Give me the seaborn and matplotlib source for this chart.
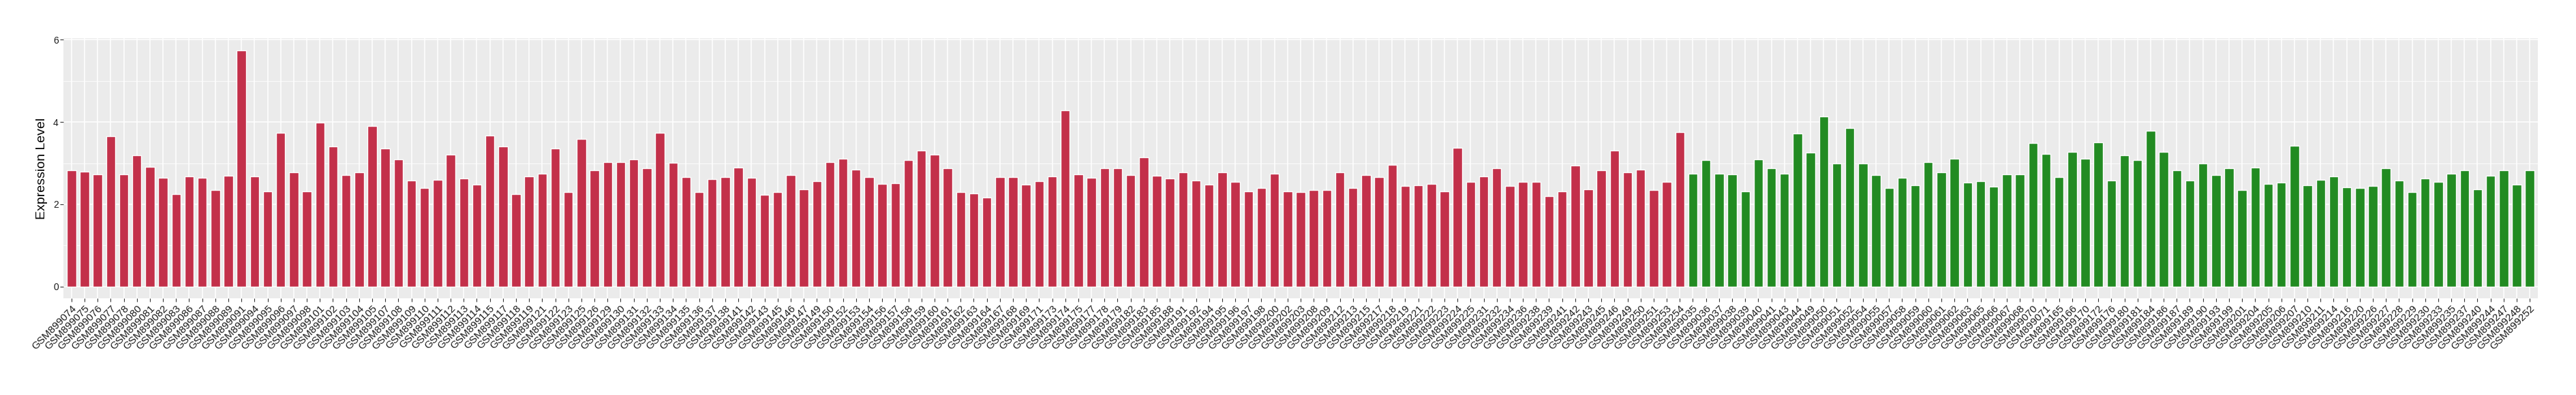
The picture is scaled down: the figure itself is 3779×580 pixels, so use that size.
import matplotlib
matplotlib.use("Agg")
import matplotlib.pyplot as plt
from matplotlib.ticker import MultipleLocator
import seaborn as sns
import pandas as pd

tumor_ids = ["074","075","076","077","078","080","081","082","083","086","087","088","089","091","094","095","096",
             "097","098","101","102","103","104","105","107","108","109","110","111","112","113","114","115","117",
             "118","119","121","122","123","125","126","129","130","131","132","133","134","135","136","137",
             "138","141","142","143","145","146","147","149","150","152","153","154","156","157","158","159","160",
             "161","162","163","164","167","168","169","171","173","174","175","177","178","179","182","183","185",
             "188","191","192","194","195","196","197","198","200","202","203","208","209","212","213","215",
             "217","218","219","221","222","223","224","225","231","232","234","236","238","239","241","242","243",
             "245","246","249","250","251","253","254"]
tumor_values = [2.82,2.80,2.73,3.65,2.72,3.19,2.91,2.64,2.24,2.67,2.64,2.35,2.69,5.75,2.67,2.32,3.73,
                2.78,2.32,3.99,3.41,2.71,2.78,3.91,3.36,3.09,2.57,2.40,2.59,3.20,2.62,2.48,3.67,3.41,
                2.24,2.67,2.75,3.35,2.29,3.59,2.82,3.03,3.03,3.09,2.87,3.73,3.01,2.66,2.30,2.61,
                2.66,2.90,2.64,2.23,2.29,2.71,2.37,2.56,3.03,3.10,2.85,2.66,2.50,2.51,3.07,3.30,3.20,
                2.87,2.30,2.27,2.16,2.66,2.66,2.48,2.56,2.67,4.28,2.73,2.64,2.87,2.87,2.71,3.14,2.69,
                2.62,2.77,2.57,2.48,2.78,2.55,2.32,2.39,2.75,2.32,2.30,2.34,2.35,2.77,2.40,2.71,
                2.66,2.96,2.45,2.46,2.50,2.32,3.38,2.55,2.67,2.88,2.45,2.55,2.55,2.19,2.32,2.94,2.37,
                2.83,3.30,2.78,2.85,2.35,2.55,3.75]

normal_ids = ["035","036","037","038","039","040","041","043","044",
              "049","050","051","052","054","055","057","058","059","060","061","062","063","065","066","067","068","070","071",
              "165","166","170","172","176","180","181","184","186","187","189","190","193","199","201",
              "204","205","206","207","210","211","214","216","220","226","227","228","229","230","233","235","237",
              "240","244","247","248","252"]
normal_values = [2.75,3.07,2.75,2.73,2.32,3.09,2.87,2.75,3.72,
                 3.25,4.13,2.99,3.86,2.99,2.71,2.39,2.64,2.46,3.03,2.78,3.10,2.53,2.56,2.43,2.73,2.73,3.49,3.22,
                 2.66,3.28,3.10,3.51,2.57,3.19,3.07,3.78,3.27,2.83,2.57,2.99,2.71,2.88,2.34,
                 2.90,2.50,2.53,3.43,2.46,2.59,2.67,2.41,2.40,2.45,2.88,2.57,2.29,2.62,2.55,2.75,2.82,
                 2.37,2.69,2.83,2.48,2.83]

group_colors = {"Tumor": "#C3304A", "Normal": "#228B22"}

samples = ["GSM899" + s for s in tumor_ids] + ["GSM899" + s for s in normal_ids]
values = tumor_values + normal_values
groups = ["Tumor"] * len(tumor_ids) + ["Normal"] * len(normal_ids)
df = pd.DataFrame({"sample": samples, "value": values, "group": groups})

sns.set_theme(style="darkgrid")
plt.rcParams["font.family"] = ["Liberation Sans", "DejaVu Sans"]

fig = plt.figure(figsize=(37.8, 5.8), dpi=100)
ax = fig.add_axes([93.3 / 3780, 1 - 438 / 580, (3722.7 - 93.3) / 3780, (438 - 56) / 580])
ax.set_facecolor("#EBEBEB")

sns.barplot(data=df, x="sample", y="value", hue="group", order=samples,
            palette=group_colors, dodge=False, width=0.7, legend=False,
            saturation=1, ax=ax, zorder=3)

ax.set_xlim(-0.6, len(samples) - 1 + 0.6)
ax.set_ylim(-0.2875, 6.04)
ax.yaxis.set_major_locator(MultipleLocator(2))
ax.yaxis.set_minor_locator(MultipleLocator(1))
ax.grid(True, which="major", axis="both", color="white", linewidth=1.1, zorder=0)
ax.grid(True, which="minor", axis="y", color="white", linewidth=0.55, zorder=0)
ax.set_axisbelow(True)
for sp in ax.spines.values():
    sp.set_visible(False)

ax.tick_params(axis="both", which="major", length=3.4, width=0.8, color="#333333",
               labelcolor="#1a1a1a", pad=2, bottom=True, left=True)
ax.tick_params(axis="y", which="minor", length=0, left=False)
ax.tick_params(axis="y", labelsize=10)
ax.set_xticks(range(len(samples)))
ax.set_xticklabels(samples, rotation=45, ha="right", va="top", rotation_mode="anchor", fontsize=11)
ax.set_xlabel("")
ax.set_ylabel("Expression Level", fontsize=14, color="black", labelpad=6)

fig.savefig("out.png", dpi=100)
